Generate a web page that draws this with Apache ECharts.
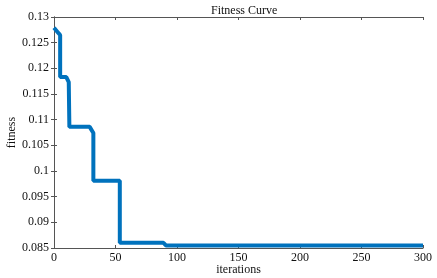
<!DOCTYPE html>
<html><head><meta charset="utf-8">
<script src="https://cdn.jsdelivr.net/npm/echarts@6/dist/echarts.min.js"></script>
<style>html,body{margin:0;padding:0;background:#fff}#c{width:437px;height:278px}</style>
</head><body><div id="c"></div>
<script>
const iterations = [0, 3.5, 5, 5, 10, 12, 12.5, 29, 32, 32, 53.5, 53.5, 89, 91, 300];
const fitness = [0.1279, 0.1269, 0.1265, 0.1183, 0.1183, 0.1173, 0.1086, 0.1086, 0.1074, 0.0981, 0.0981, 0.0860, 0.0860, 0.0855, 0.0855];
const xTicks = [0, 50, 100, 150, 200, 250, 300];
const yTicks = [0.085, 0.09, 0.095, 0.1, 0.105, 0.11, 0.115, 0.12, 0.125, 0.13];
const xName = 'iterations';
const yName = 'fitness';

const font = 'Liberation Serif, Times New Roman, serif';
const pts = iterations.map((x, i) => [x, fitness[i]]);
const chart = echarts.init(document.getElementById('c'));
const axCommon = {
  axisLine: {show: true, lineStyle: {color: '#555', width: 1}},
  axisTick: {show: true, inside: true, length: 3, lineStyle: {color: '#555'}},
  splitLine: {show: false}
};
chart.setOption({
  animation: false,
  title: {text: 'Fitness Curve', left: 206, top: 0, textStyle: {fontFamily: font, fontSize: 12, fontWeight: 'normal', color: '#111'}},
  grid: {left: 54, right: 14, top: 17, bottom: 30, containLabel: false, outerBoundsMode: 'none'},
  graphic: [
    {type: 'text', x: 238.5, y: 270, style: {text: xName, font: '12px ' + font, fill: '#111', align: 'center', verticalAlign: 'middle'}},
    {type: 'text', x: 12, y: 132.5, rotation: Math.PI / 2, style: {text: yName, font: '12px ' + font, fill: '#111', align: 'center', verticalAlign: 'middle'}}
  ],
  xAxis: [
    Object.assign({type: 'value', min: xTicks[0], max: xTicks[xTicks.length-1], interval: 50, position: 'bottom',
      axisLabel: {fontFamily: font, fontSize: 12, color: '#111', margin: 4}}, axCommon),
    Object.assign({type: 'value', min: xTicks[0], max: xTicks[xTicks.length-1], interval: 50, position: 'top',
      axisLabel: {show: false}}, axCommon)
  ],
  yAxis: [
    Object.assign({type: 'value', min: yTicks[0], max: yTicks[yTicks.length-1], interval: 0.005, position: 'left',
      axisLabel: {fontFamily: font, fontSize: 12, color: '#111', margin: 5}}, axCommon),
    Object.assign({type: 'value', min: yTicks[0], max: yTicks[yTicks.length-1], interval: 0.005, position: 'right',
      axisLabel: {show: false}}, axCommon)
  ],
  series: [{
    type: 'line', data: pts, xAxisIndex: 0, yAxisIndex: 0, showSymbol: false,
    lineStyle: {color: '#0072BD', width: 4}, clip: true
  }]
});
</script></body></html>
